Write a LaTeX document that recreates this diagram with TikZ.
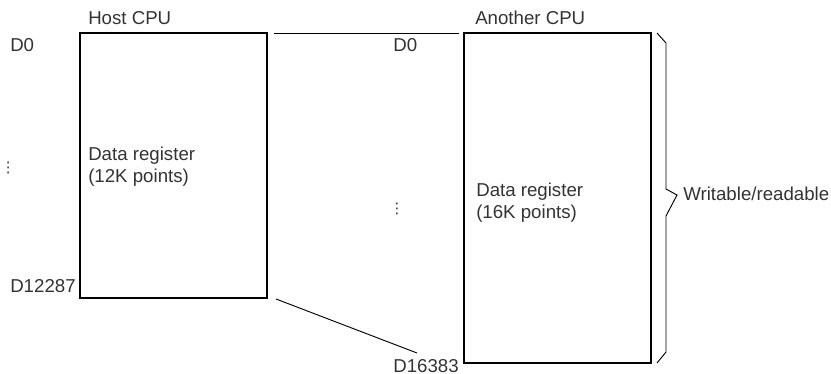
\documentclass[tikz,border=0pt]{standalone}
\usepackage{fontspec}
\setmainfont{Liberation Sans}
\newfontfamily\symfont{DejaVu Sans}
\definecolor{txtgray}{HTML}{333333}
\begin{document}
\begin{tikzpicture}[x=0.75pt,y=-0.75pt,
  lbl/.style={text=txtgray,font=\fontsize{14}{16.5}\selectfont,inner sep=0pt,anchor=base west},
  dotlbl/.style={text=txtgray,font=\symfont\fontsize{11}{12}\selectfont,inner sep=0pt},
  regbox/.style={draw,line width=0.9pt,inner sep=0pt}]
\useasboundingbox (0,0) rectangle (831,374);

% host side
\node[regbox,minimum width=140.25pt,minimum height=198.75pt] (hostreg) at (173.5,165.5) {};
\node[lbl] (hostcpu) at (88,25) {Host CPU};
\node[lbl] (hostfirst) at (10,52) {D0};
\node[lbl] (hostlast) at (10,292) {D12287};
\node[dotlbl,anchor=west] (hostdots) at (0.5,168) {⋮};
\node[lbl,align=left] (hosttext) at (88,182) {Data register\\(12K points)};

% another side
\node[regbox,minimum width=140.25pt,minimum height=247.5pt] (otherreg) at (557.5,198) {};
\node[lbl] (othercpu) at (475,25) {Another CPU};
\node[lbl] (otherfirst) at (393,52) {D0};
\node[lbl] (otherlast) at (393,372) {D16383};
\node[dotlbl] (otherdots) at (397,209) {⋮};
\node[lbl,align=left] (othertext) at (476,218) {Data register\\(16K points)};

% mapping lines
\coordinate (topa) at (274,33);
\coordinate (topb) at (459,33);
\coordinate (bota) at (276,299);
\coordinate (botb) at (417,353);
\draw[line width=0.7pt] (topa) -- (topb);
\draw[line width=0.7pt] (bota) -- (botb);

% brace
\coordinate (bracetip) at (677,195);
\draw[line width=0.7pt] (657,33) -- (666,43) -- (666,189) -- (bracetip)
  -- (666,216) -- (666,352) -- (657,363);
\node[lbl] (access) at (683,200) {Writable/readable};
\end{tikzpicture}
\end{document}
